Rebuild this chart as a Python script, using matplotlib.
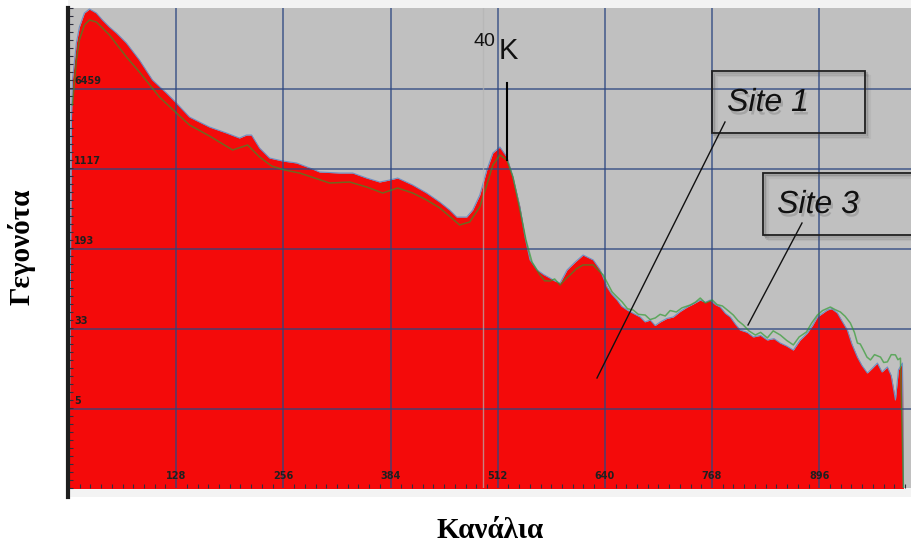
import matplotlib
matplotlib.use("Agg")
import numpy as np
import matplotlib.pyplot as plt
import matplotlib.patheffects as pe
from matplotlib.patches import Rectangle
from matplotlib.lines import Line2D
from matplotlib.ticker import FixedLocator, MultipleLocator
from matplotlib.transforms import blended_transform_factory

# Site 1 (kokkino gemisma) - kanali, gegonota
site1_ch = [0, 2.9, 4.1, 8.8, 12.4, 18.4, 24.4, 32.7, 40.0, 48.3, 56.7, 68.6, 84.1, 99.7,
            116.4, 128.3, 143.9, 167.8, 188.1, 203.6, 212.0, 218.0, 227.6, 239.5, 255.1,
            271.8, 290.9, 299.3, 323.2, 338.8, 355.5, 371.0, 383.0, 392.5, 410.5, 427.2,
            442.8, 454.7, 463.1, 475.0, 482.2, 490.6, 499.0, 506.2, 514.6, 523.0, 530.2,
            538.6, 544.6, 550.6, 559.0, 567.0, 574.5, 580.0, 586.5, 594.9, 604.5, 614.0,
            626.0, 634.4, 642.7, 648.0, 654.7, 660.0, 666.7, 674.0, 682.2, 688.0, 694.2,
            700.0, 706.1, 714.0, 721.7, 730.0, 738.4, 746.0, 753.9, 760.0, 765.9, 772.0,
            777.8, 784.0, 789.8, 796.0, 801.7, 810.0, 817.3, 826.0, 834.0, 842.0, 849.6,
            857.0, 865.1, 873.0, 881.8, 888.0, 893.8, 900.0, 905.7, 911.0, 917.7, 923.0,
            929.6, 935.0, 941.6, 947.0, 953.5, 959.0, 965.5, 971.0, 977.4, 982.0, 987.0,
            990.6, 995.4, 996.6]
site1_cnt = [1.0, 3272, 7870, 17730, 25180, 34240, 37370, 34240, 29360, 25180, 22080, 17730,
             12210, 7870, 5918, 4752, 3494, 2806, 2460, 2204, 2353, 2353, 1770, 1421, 1331,
             1274, 1116, 1045, 1022, 1022, 916, 839, 877, 916, 786, 659, 541, 454, 389, 389,
             454, 631, 1092, 1586, 1809, 1453, 937, 485, 251, 152, 122, 110, 102, 96, 91.5,
             122, 145, 169, 152, 122, 83.8, 72, 63.0, 55, 50.6, 47, 43.4, 39, 40.6, 36, 38.9,
             42, 43.4, 49, 54.0, 58, 63.0, 60, 63.0, 57, 54.0, 47, 43.4, 37, 32.6, 31, 28.0,
             29, 26.2, 27, 24.5, 23, 21.0, 26, 30.5, 36, 43.4, 47, 50.6, 52, 47.4, 40, 32.6,
             24, 18.0, 15, 12.7, 14, 15.8, 13, 14.5, 12, 7.02, 13.6, 15.8, 1.0]

# Site 3 (prasini grammi)
site3_ch = [4.1, 8.8, 12.4, 18.4, 24.4, 32.7, 48.3, 68.6, 84.1, 108.0, 128.3, 143.9, 167.8,
            195.4, 213.3, 227.6, 242.0, 257.5, 275.4, 293.3, 311.3, 335.2, 355.5, 374.6,
            392.5, 410.5, 427.2, 442.8, 456.9, 466.5, 478.5, 490.6, 499.0, 506.2, 514.6,
            523.0, 530.2, 538.6, 545.8, 553.0, 562.6, 568.0, 574.5, 580.0, 586.5, 592.0,
            598.4, 606.0, 614.0, 626.0, 638.0, 648.7, 654.0, 660.7, 667.0, 673.8, 680.0,
            688.2, 694.0, 700.2, 706.0, 712.1, 718.0, 725.3, 732.0, 742.0, 748.0, 753.9,
            760.0, 768.3, 774.0, 780.3, 787.0, 793.4, 799.0, 805.4, 812.0, 819.7, 826.0,
            834.0, 841.0, 849.6, 857.0, 865.1, 872.0, 880.6, 887.0, 893.8, 900.0, 909.3,
            915.0, 921.3, 927.0, 933.2, 938.0, 941.6, 945.0, 948.8, 953.0, 957.2, 962.0,
            969.2, 973.0, 977.4, 982.0, 987.0, 990.0, 993.0, 996.6]
site3_cnt = [4547, 12210, 18940, 26320, 29360, 28100, 21130, 13040, 9381, 5420, 3815, 2932,
             2303, 1694, 1890, 1453, 1192, 1092, 1022, 916, 821, 839, 752, 659, 736, 659,
             565, 475, 381, 327, 349, 485, 786, 1219, 1518, 1360, 937, 454, 235, 145, 109,
             96, 95.6, 100, 87.6, 98, 109, 125, 136, 136, 109, 75.1, 68, 60.3, 52, 50.6, 46,
             45.3, 41, 42.5, 46, 44.4, 50, 48.4, 53, 56.5, 60, 65.8, 59, 63.0, 57, 55.3, 50,
             45.3, 40, 36.4, 32, 29.2, 31, 27.4, 32, 29.2, 26, 23.5, 28, 31.2, 38, 45.3, 50,
             54.0, 51, 48.4, 44, 38.0, 31, 24.5, 24, 21.0, 18, 16.9, 19, 18.0, 16, 16.2, 19,
             18.9, 17, 17.6, 1.0]

y_ticks = [5.78, 33.4, 193, 1117, 6459]
y_labels = ["5", "33", "193", "1117", "6459"]
x_ticks = [128, 256, 384, 512, 640, 768, 896]
marker_ch = 494   # svisti grammi (kersoras)

W, H = 912, 547

def P(x, y):
    # pixel -> figure fraction
    return (x / W, 1 - y / H)

fig = plt.figure(figsize=(W / 100, H / 100), dpi=100)
fig.patch.set_facecolor("white")

# lwrides panw/katw
fig.add_artist(Rectangle(P(68, 8), (W - 68) / W, 8 / H, transform=fig.transFigure,
                         facecolor="#f3f3f3", edgecolor="none", zorder=0))
fig.add_artist(Rectangle(P(68, 497), (W - 68) / W, 9 / H, transform=fig.transFigure,
                         facecolor="#f3f3f3", edgecolor="none", zorder=0))

ax = fig.add_axes([69 / W, 59 / H, 1 - 69 / W, 480 / H])
ax.set_facecolor("#c0c0c0")
ax.set_yscale("log")
ax.set_xlim(0, 1006.8)
ax.set_ylim(1.018, 38210)

ax.fill_between(site1_ch, site1_cnt, 0.5, color="#f40a0a", lw=0, zorder=1)
ax.plot(site1_ch, site1_cnt, color="#6f8fc4", lw=0.8, zorder=1.5)
ax.plot(site3_ch, site3_cnt, color="#2a9a2a", lw=1.1, alpha=0.65, zorder=2)

ax.axvline(marker_ch, color="#b4b4b4", lw=1.0, alpha=0.7, zorder=2.2)

ax.set_xticks(x_ticks)
ax.set_yticks(y_ticks)
ax.yaxis.set_minor_locator(FixedLocator(np.geomspace(1.018, 38210, 61)))
ax.xaxis.set_minor_locator(MultipleLocator(12.8))
ax.grid(True, which="major", color="#2c4680", lw=1.3, alpha=0.72, zorder=3)
ax.tick_params(which="both", direction="in", labelleft=False, labelbottom=False,
               colors="#303040", left=True, bottom=True, top=False, right=False)
ax.tick_params(which="major", length=0)
ax.tick_params(which="minor", length=3, width=0.8)

for s in ["top", "right", "bottom", "left"]:
    ax.spines[s].set_visible(False)

tr_y = blended_transform_factory(ax.transAxes, ax.transData)
for v, lab in zip(y_ticks, y_labels):
    ax.text(0.006, v * 1.06, lab, transform=tr_y, fontsize=7, fontweight="bold",
            color="#202020", ha="left", va="bottom", zorder=4)
tr_x = blended_transform_factory(ax.transData, ax.transAxes)
for v in x_ticks:
    ax.text(v, 0.025, str(v), transform=tr_x, fontsize=7, fontweight="bold",
            color="#202020", ha="center", va="center", zorder=4)

# aristero paxy axonas
fig.add_artist(Line2D([68 / W, 68 / W], [1 - 8 / H, 1 - 497 / H], transform=fig.transFigure,
                      color="#1e1e1e", lw=3))

# 40K
fig.text(*P(484, 42), "40", fontsize=14, family="Liberation Sans", ha="center", va="center",
         color="#111111")
fig.text(*P(508, 51), "K", fontsize=21, family="Liberation Sans", ha="center", va="center",
         color="#111111")
fig.add_artist(Line2D([507 / W, 507 / W], [1 - 83 / H, 1 - 160 / H], transform=fig.transFigure,
                      color="black", lw=1.5))

tshadow = [pe.SimplePatchShadow(offset=(1.5, -2.5), alpha=0.22, shadow_rgbFace="#444444"),
           pe.Normal()]

for (x0, y0, x1, y1), txt, (tx, ty), line in [
        ((712, 71, 865, 133), "Site 1", (768, 103), ((725, 122), (597, 378))),
        ((763, 173, 912, 235), "Site 3", (818, 205), ((802, 223), (748, 325)))]:
    # miakri skia tou plaisiou
    for k, a in [(2, 0.25), (3.5, 0.15), (5, 0.08)]:
        fig.add_artist(Rectangle(P(x0 + k, y1 + k), (x1 - x0) / W, (y1 - y0) / H,
                                 transform=fig.transFigure, facecolor="none",
                                 edgecolor="#505050", lw=1.5, alpha=a))
    fig.add_artist(Rectangle(P(x0, y1), (x1 - x0) / W, (y1 - y0) / H, transform=fig.transFigure,
                             facecolor="none", edgecolor="#202020", lw=1.3))
    fig.text(*P(tx, ty), txt, fontsize=23, style="italic", family="Liberation Sans",
             ha="center", va="center", color="#111111", path_effects=tshadow)
    (lx0, ly0), (lx1, ly1) = line
    fig.add_artist(Line2D([lx0 / W, lx1 / W], [1 - ly0 / H, 1 - ly1 / H],
                          transform=fig.transFigure, color="#111111", lw=1.0))

fig.text(*P(22, 247), "Γεγονότα", rotation=90, fontsize=21, fontweight="bold",
         family="Liberation Serif", ha="center", va="center")
fig.text(*P(490, 531), "Κανάλια", fontsize=21, fontweight="bold",
         family="Liberation Serif", ha="center", va="center")

fig.savefig("out.png", dpi=100)
